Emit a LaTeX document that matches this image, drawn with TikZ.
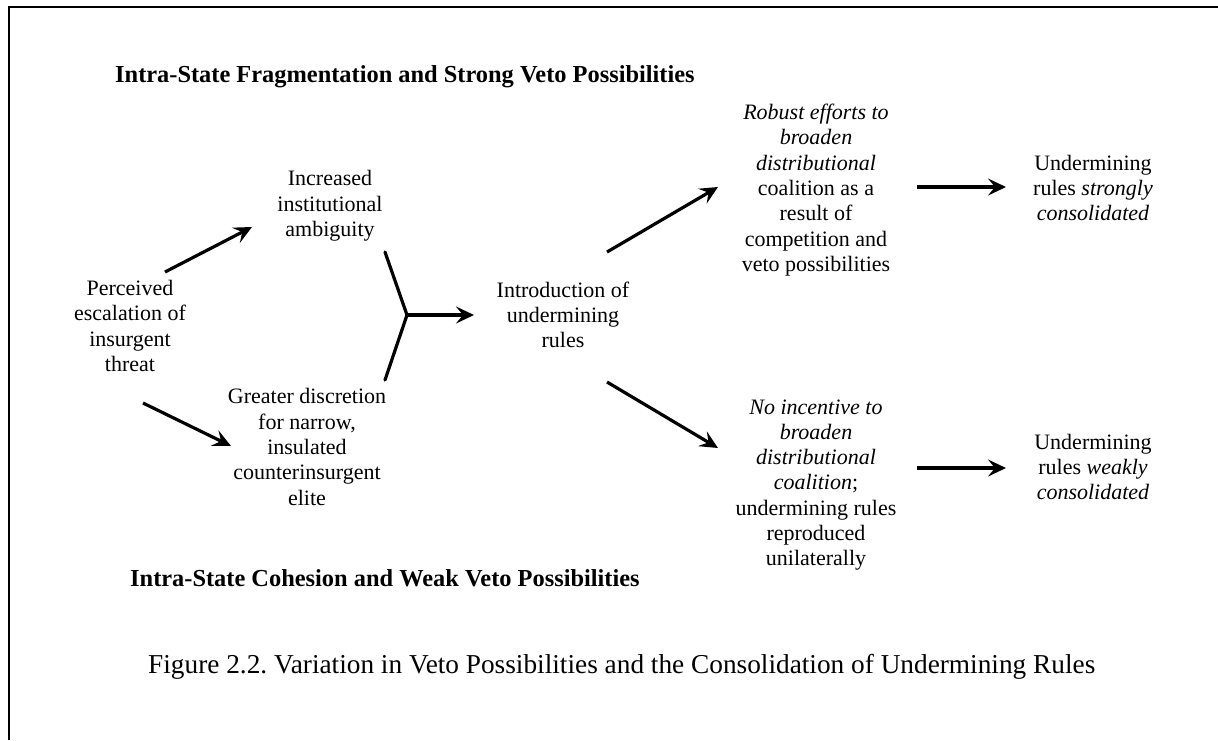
\documentclass[tikz,border=0pt]{standalone}
\usepackage{fontspec}
\setmainfont{Liberation Serif}
\usetikzlibrary{arrows.meta}
\frenchspacing
\begin{document}
\begin{tikzpicture}[x=1pt,y=-1pt,
  txt/.style={align=center, inner sep=0pt, font=\fontsize{22}{25.3}\selectfont},
  flow/.style={line width=3.2pt, -{Stealth[length=18pt,width=17pt,inset=7pt]}},
  stem/.style={line width=3.2pt, line cap=round},
  hdr/.style={anchor=base west, inner sep=0pt, font=\fontsize{24.4}{28}\selectfont\bfseries},
  frame/.style={line width=2.5pt}
]
\useasboundingbox (0,0) rectangle (1218,740);
% page frame (left and top edges)
\draw[frame] (9,740) -- (9,7) -- (1218,7);

% headings
\node[hdr] (top) at (115,82) {Intra-State Fragmentation and Strong Veto Possibilities};
\node[hdr] (bot) at (130,586) {Intra-State Cohesion and Weak Veto Possibilities};

% stages
\node[txt] (perc) at (130,326) {Perceived\\escalation of\\insurgent\\threat};
\node[txt] (amb) at (330,206) {Increased\\institutional\\ambiguity};
\node[txt] (disc) at (307,447) {Greater discretion\\for narrow,\\insulated\\counterinsurgent\\elite};
\node[txt] (intro) at (563,315) {Introduction of\\undermining\\rules};
\node[txt] (robust) at (816,190) {\textit{Robust efforts to}\\\textit{broaden}\\\textit{distributional}\\coalition as a\\result of\\competition and\\veto possibilities};
\node[txt] (noinc) at (816,485) {\textit{No incentive to}\\\textit{broaden}\\\textit{distributional}\\\textit{coalition};\\undermining rules\\reproduced\\unilaterally};
\node[txt] (strong) at (1093,188) {Undermining\\rules \textit{strongly}\\\textit{consolidated}};
\node[txt] (weak) at (1093,467) {Undermining\\rules \textit{weakly}\\\textit{consolidated}};

% caption
\node[anchor=base west, inner sep=0pt, font=\fontsize{27.3}{30}\selectfont] (cap) at (148,673)
  {Figure 2.2. Variation in Veto Possibilities and the Consolidation of Undermining Rules};

% arrow end points
\coordinate (p1) at (165,272); \coordinate (q1) at (252,227);
\coordinate (p2) at (143,403); \coordinate (q2) at (231,446);
\coordinate (f1) at (385,252); \coordinate (f2) at (385,380);
\coordinate (fork) at (407,315); \coordinate (q3) at (474,315);
\coordinate (p4) at (607,252); \coordinate (q4) at (718,187);
\coordinate (p5) at (607,382); \coordinate (q5) at (718,448);
\coordinate (p6) at (917,187); \coordinate (q6) at (1006,187);
\coordinate (p7) at (917,468); \coordinate (q7) at (1006,468);

% connectors
\draw[flow] (p1) -- (q1);
\draw[flow] (p2) -- (q2);
\draw[stem] (f1) -- (fork) -- (f2);
\draw[flow] (fork) -- (q3);
\draw[flow] (p4) -- (q4);
\draw[flow] (p5) -- (q5);
\draw[flow] (p6) -- (q6);
\draw[flow] (p7) -- (q7);
\end{tikzpicture}
\end{document}
